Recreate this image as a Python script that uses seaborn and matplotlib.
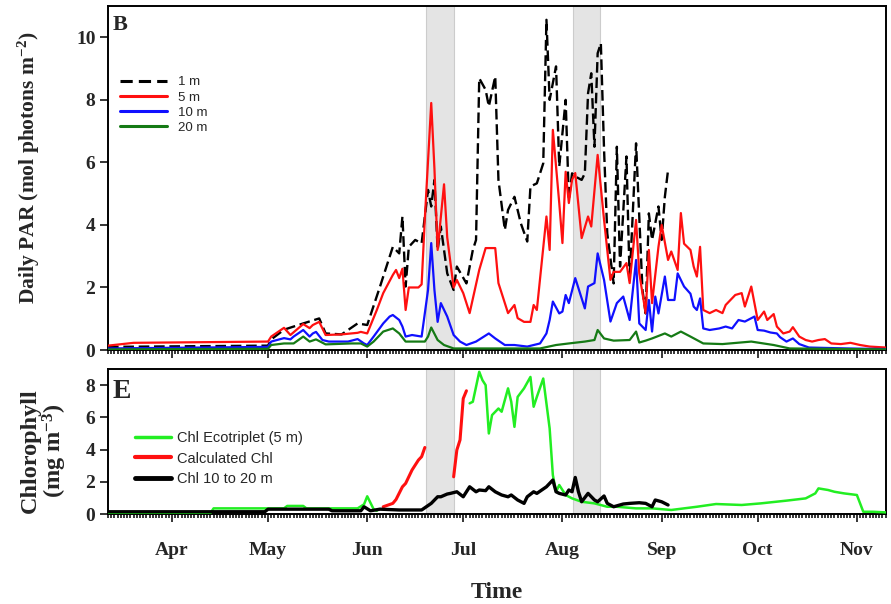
import numpy as np
import pandas as pd
import matplotlib
matplotlib.use("Agg")
import matplotlib.pyplot as plt
import matplotlib.dates as mdates
from matplotlib.lines import Line2D
import seaborn as sns

# day numbers are counted from 1 April
start = pd.Timestamp("2013-04-01")

# ---- panel B : daily PAR (mol photons m-2) ----
day_1m = [-20, 30, 31, 35, 41, 46, 48, 53, 58, 61,
          65, 69, 71, 72, 73, 74, 76, 78, 80, 81,
          82, 83, 84, 86, 88, 89, 92, 94, 95, 96,
          98, 99, 101, 102, 104, 105, 107, 109, 111, 112,
          114, 116, 117, 118, 120, 121, 123, 124, 125, 126,
          128, 129, 130, 131, 132, 133, 134, 135, 136, 138,
          139, 140, 142, 143, 145, 147, 148, 149, 150, 152,
          153, 154, 155]
par_1m = [0.10, 0.14, 0.34, 0.65, 0.85, 1.01, 0.53, 0.50, 0.85, 0.80,
          2.03, 3.30, 3.09, 4.27, 2.03, 3.30, 3.52, 3.41, 5.12, 4.59,
          5.44, 3.20, 3.95, 2.45, 1.92, 2.67, 2.13, 3.20, 3.52, 8.69,
          8.32, 7.79, 8.75, 5.44, 3.84, 4.48, 4.90, 4.05, 3.47, 5.23,
          5.33, 5.97, 10.56, 8.00, 9.07, 5.87, 8.00, 4.80, 5.65, 5.55,
          5.44, 5.65, 8.21, 8.85, 6.50, 9.49, 9.81, 6.40, 3.73, 2.13,
          6.50, 2.67, 6.19, 2.24, 6.61, 1.92, 1.17, 4.37, 3.52, 4.59,
          3.52, 4.90, 5.76]

day_5m = [-20, -12, 9, 30, 31, 35, 37, 41, 43, 44,
          46, 48, 53, 58, 59, 61, 64, 66, 69, 70,
          71, 72, 73, 74, 77, 78, 79, 81, 82, 83,
          85, 86, 88, 89, 91, 93, 96, 98, 101, 102,
          105, 107, 108, 110, 112, 113, 114, 117, 118, 119,
          121, 122, 123, 124, 125, 126, 128, 130, 131, 133,
          135, 137, 138, 140, 142, 143, 145, 146, 148, 149,
          150, 152, 153, 155, 156, 158, 159, 160, 162, 163,
          164, 165, 166, 168, 170, 172, 173, 176, 178, 179,
          181, 183, 185, 186, 188, 189, 191, 193, 194, 196,
          198, 200, 202, 204, 206, 209, 212, 215, 218, 223]
par_5m = [0.14, 0.23, 0.25, 0.27, 0.43, 0.71, 0.48, 0.83, 0.70, 0.80,
          0.90, 0.48, 0.50, 0.55, 0.58, 0.53, 1.28, 1.82, 2.40, 2.56,
          2.30, 2.60, 1.28, 2.00, 2.00, 2.10, 4.20, 7.90, 5.80, 3.20,
          5.30, 3.60, 2.00, 2.24, 1.82, 1.18, 2.56, 3.26, 3.26, 2.14,
          1.18, 1.44, 1.02, 0.90, 0.90, 1.44, 1.28, 4.27, 3.20, 7.04,
          4.70, 3.42, 5.70, 4.70, 5.44, 5.66, 3.58, 4.27, 3.95, 6.24,
          4.16, 2.24, 2.50, 2.50, 2.78, 2.14, 4.16, 2.46, 1.18, 3.20,
          1.50, 3.30, 4.00, 2.88, 3.15, 2.56, 4.38, 3.40, 3.20, 2.67,
          2.35, 3.30, 1.28, 1.18, 1.28, 1.18, 1.44, 1.76, 1.82, 1.39,
          2.03, 0.96, 1.23, 0.96, 1.15, 0.75, 0.53, 0.59, 0.73, 0.43,
          0.32, 0.27, 0.32, 0.35, 0.21, 0.19, 0.23, 0.16, 0.11, 0.08]

day_10m = [-20, 30, 31, 35, 37, 38, 41, 43, 44, 45,
           47, 49, 55, 58, 60, 61, 63, 66, 68, 69,
           71, 72, 73, 75, 78, 80, 81, 82, 83, 84,
           86, 88, 90, 92, 95, 99, 101, 104, 107, 111,
           115, 117, 118, 119, 121, 122, 123, 124, 126, 129,
           130, 132, 133, 135, 137, 139, 141, 143, 145, 146,
           148, 149, 150, 151, 152, 154, 155, 157, 158, 160,
           162, 163, 164, 165, 166, 168, 171, 173, 175, 177,
           179, 182, 183, 185, 187, 189, 190, 192, 194, 196,
           199, 211, 223]
par_10m = [0.05, 0.10, 0.27, 0.38, 0.34, 0.43, 0.64, 0.43, 0.53, 0.58,
           0.32, 0.27, 0.27, 0.35, 0.21, 0.16, 0.43, 0.85, 1.07, 1.12,
           0.96, 0.75, 0.43, 0.48, 0.43, 1.92, 3.42, 1.92, 0.90, 1.50,
           1.07, 0.48, 0.27, 0.16, 0.27, 0.53, 0.37, 0.16, 0.16, 0.11,
           0.21, 0.53, 0.96, 1.55, 1.17, 1.23, 1.76, 1.50, 2.30, 1.33,
           2.03, 2.14, 3.09, 2.24, 0.91, 1.50, 1.71, 0.96, 2.88, 0.85,
           0.64, 1.60, 0.59, 1.71, 1.17, 2.35, 1.60, 1.60, 2.45, 2.03,
           1.80, 1.39, 1.28, 1.65, 0.69, 0.64, 0.69, 0.75, 0.69, 0.96,
           0.91, 1.07, 0.64, 0.62, 0.56, 0.53, 0.41, 0.27, 0.37, 0.19,
           0.08, 0.05, 0.03]

day_20m = [-20, 30, 31, 35, 38, 41, 43, 45, 48, 56,
           59, 61, 63, 66, 69, 71, 73, 79, 80, 81,
           83, 85, 88, 115, 120, 124, 129, 132, 133, 135,
           138, 143, 145, 146, 148, 150, 154, 156, 159, 162,
           166, 172, 181, 188, 193, 223]
par_20m = [0.02, 0.04, 0.16, 0.21, 0.21, 0.43, 0.27, 0.34, 0.18, 0.21,
           0.21, 0.11, 0.27, 0.59, 0.69, 0.53, 0.27, 0.27, 0.43, 0.72,
           0.32, 0.16, 0.05, 0.05, 0.16, 0.21, 0.27, 0.32, 0.64, 0.37,
           0.30, 0.32, 0.59, 0.24, 0.30, 0.37, 0.53, 0.43, 0.59, 0.43,
           0.21, 0.19, 0.27, 0.16, 0.05, 0.02]

# ---- panel E : chlorophyll (mg m-3) ----
eco_day_a = [-20, 12, 13, 35, 36, 41, 42, 58, 60, 61, 63, 64]
eco_a = [0.05, 0.05, 0.35, 0.35, 0.50, 0.50, 0.35, 0.35, 0.60, 1.10, 0.30, 0.20]
eco_day_b = [93, 94, 95, 96, 97, 98, 99, 100, 102, 103,
             105, 106, 107, 108, 110, 112, 113, 114, 116, 118,
             119, 120, 121, 123, 125, 128, 132, 136, 139, 145,
             150, 156, 160, 164, 170, 178, 184, 192, 198, 201,
             202, 205, 207, 210, 214, 216, 219, 223]
eco_b = [6.87, 6.97, 7.90, 8.83, 8.31, 8.00, 5.00, 6.14, 6.55, 6.35,
         7.80, 6.97, 5.41, 7.27, 7.80, 8.51, 6.66, 7.27, 8.41, 5.31,
         2.42, 1.38, 1.80, 1.18, 0.97, 0.76, 0.66, 0.45, 0.45, 0.35,
         0.35, 0.25, 0.35, 0.45, 0.62, 0.56, 0.66, 0.83, 0.97, 1.28,
         1.59, 1.49, 1.38, 1.28, 1.18, 0.14, 0.14, 0.10]

calc_day_a = [66, 69, 70, 72, 73, 75, 77, 78, 79]
calc_a = [0.45, 0.66, 0.90, 1.69, 1.90, 2.73, 3.35, 3.56, 4.13]
calc_day_b = [88, 89, 90, 91, 92]
calc_b = [2.31, 3.97, 4.60, 7.17, 7.65]

deep_day = [-20, 29, 30, 49, 50, 59, 60, 62, 65, 71,
            78, 81, 83, 84, 86, 87, 89, 91, 93, 95,
            96, 98, 99, 101, 103, 105, 106, 108, 110, 111,
            113, 114, 117, 119, 120, 121, 123, 124, 125, 126,
            127, 128, 130, 132, 133, 135, 136, 138, 141, 143,
            146, 148, 150, 151, 153, 155]
deep_chl = [0.14, 0.14, 0.30, 0.30, 0.20, 0.20, 0.45, 0.20, 0.30, 0.25,
            0.25, 0.66, 1.07, 1.07, 1.24, 1.28, 1.38, 1.07, 1.69, 1.38,
            1.49, 1.45, 1.69, 1.38, 1.18, 1.07, 1.18, 0.87, 0.66, 1.07,
            1.38, 1.28, 1.69, 2.11, 1.38, 1.28, 1.18, 1.49, 1.38, 2.27,
            1.38, 0.76, 1.28, 0.87, 0.76, 1.12, 0.66, 0.45, 0.62, 0.66,
            0.70, 0.66, 0.45, 0.87, 0.76, 0.56]

# grey periods
shade_periods = [(79.4, 88.1), (125.3, 133.7)]


def to_dates(days):
    return start + pd.to_timedelta(days, unit="D")


def two_segments(day_a, val_a, day_b, val_b):
    return pd.DataFrame({
        "date": to_dates(list(day_a) + list(day_b)),
        "val": list(val_a) + list(val_b),
        "seg": [0] * len(day_a) + [1] * len(day_b),
    })


sns.set_style("ticks")
plt.rcParams["font.family"] = ["Liberation Serif", "DejaVu Serif"]
plt.rcParams["font.weight"] = "bold"
plt.rcParams["axes.labelweight"] = "bold"
plt.rcParams["mathtext.fontset"] = "custom"
plt.rcParams["mathtext.rm"] = "Liberation Serif:bold"
plt.rcParams["mathtext.bf"] = "Liberation Serif:bold"
plt.rcParams["mathtext.default"] = "bf"

fig = plt.figure(figsize=(8.91, 6.04), dpi=100)
ax1 = fig.add_axes([0.1212, 0.4205, 0.8732, 0.5695])
ax2 = fig.add_axes([0.1212, 0.149, 0.8732, 0.2400])

# top panel
c_1m, c_5m, c_10m, c_20m = "black", "#ff1010", "#1010ff", "#157a15"
sns.lineplot(data=pd.DataFrame({"date": to_dates(day_1m), "val": par_1m}),
             x="date", y="val", ax=ax1, color=c_1m, lw=1.7,
             linestyle=(0, (4.5, 2)), estimator=None, zorder=3)
sns.lineplot(data=pd.DataFrame({"date": to_dates(day_5m), "val": par_5m}),
             x="date", y="val", ax=ax1, color=c_5m, lw=1.6, estimator=None, zorder=4)
sns.lineplot(data=pd.DataFrame({"date": to_dates(day_10m), "val": par_10m}),
             x="date", y="val", ax=ax1, color=c_10m, lw=1.6, estimator=None, zorder=5)
sns.lineplot(data=pd.DataFrame({"date": to_dates(day_20m), "val": par_20m}),
             x="date", y="val", ax=ax1, color=c_20m, lw=1.6, estimator=None, zorder=6)

# bottom panel
c_eco, c_calc, c_deep = "#22ee22", "#ff1010", "black"
sns.lineplot(data=two_segments(eco_day_a, eco_a, eco_day_b, eco_b),
             x="date", y="val", units="seg", ax=ax2, color=c_eco, lw=1.8,
             estimator=None, zorder=3)
sns.lineplot(data=two_segments(calc_day_a, calc_a, calc_day_b, calc_b),
             x="date", y="val", units="seg", ax=ax2, color=c_calc, lw=2.2,
             estimator=None, zorder=4)
sns.lineplot(data=pd.DataFrame({"date": to_dates(deep_day), "val": deep_chl}),
             x="date", y="val", ax=ax2, color=c_deep, lw=2.4, estimator=None, zorder=5)

for ax in (ax1, ax2):
    for a, b in shade_periods:
        ax.axvspan(to_dates(a), to_dates(b), facecolor="#e4e4e4",
                   edgecolor="#cccccc", lw=0.8, zorder=0)
    ax.set_xlim(to_dates(-20), to_dates(223.1))
    ax.xaxis.set_major_locator(mdates.MonthLocator())
    ax.xaxis.set_minor_locator(mdates.DayLocator())
    ax.tick_params(axis="x", which="major", direction="out", length=6, width=1.3)
    ax.tick_params(axis="x", which="minor", direction="out", length=3, width=1.3)
    ax.tick_params(axis="y", direction="out", length=6, width=1.3, labelsize=14, pad=3)
    for s in ax.spines.values():
        s.set_visible(True)
        s.set_linewidth(1.4)
        s.set_color("black")
    ax.set_xlabel("")

ax1.set_ylim(0, 11)
ax1.set_yticks([0, 2, 4, 6, 8, 10])
ax1.tick_params(axis="x", labelbottom=False)
ax1.set_ylabel("Daily PAR (mol photons m$^{-2}$)", fontsize=15.5)
ax1.yaxis.set_label_coords(-0.085, 0.53)
ax1.text(0.006, 0.975, "B", transform=ax1.transAxes, fontsize=16,
         fontweight="bold", va="top", ha="left")

ax2.set_ylim(0, 9)
ax2.set_yticks([0, 2, 4, 6, 8])
ax2.xaxis.set_major_formatter(mdates.DateFormatter("%b"))
ax2.tick_params(axis="x", which="major", labelsize=14, pad=14)
ax2.set_ylabel("Chlorophyll\n(mg m$^{-3}$)", fontsize=17.5, linespacing=1.0)
ax2.yaxis.set_label_coords(-0.05, 0.44)
ax2.set_xlabel("Time", fontsize=17)
ax2.xaxis.set_label_coords(0.5, -0.47)
ax2.text(0.006, 0.93, "E", transform=ax2.transAxes, fontsize=20,
         fontweight="bold", va="top", ha="left")

# legends
legend_font = {"family": "Liberation Sans", "weight": "normal"}
top_handles = [
    Line2D([], [], color=c_1m, lw=2.2, linestyle=(0, (4, 2))),
    Line2D([], [], color=c_5m, lw=2.2),
    Line2D([], [], color=c_10m, lw=2.2),
    Line2D([], [], color=c_20m, lw=2.2),
]
ax1.legend(top_handles, ["1 m", "5 m", "10 m", "20 m"], loc="upper left",
           bbox_to_anchor=(0.0154, 0.796), frameon=False, borderpad=0,
           borderaxespad=0, handlelength=3.6, handletextpad=0.8,
           labelspacing=0.22, prop=dict(legend_font, size=9.5))

bot_handles = [
    Line2D([], [], color=c_eco, lw=2.5),
    Line2D([], [], color=c_calc, lw=3.0),
    Line2D([], [], color=c_deep, lw=3.5),
]
ax2.legend(bot_handles, ["Chl Ecotriplet (5 m)", "Calculated Chl", "Chl 10 to 20 m"],
           loc="upper left", bbox_to_anchor=(0.0347, 0.57), frameon=False,
           borderpad=0, borderaxespad=0, handlelength=2.5, handletextpad=0.4,
           labelspacing=0.42, prop=dict(legend_font, size=10.5))

fig.savefig("out.png", dpi=100)
